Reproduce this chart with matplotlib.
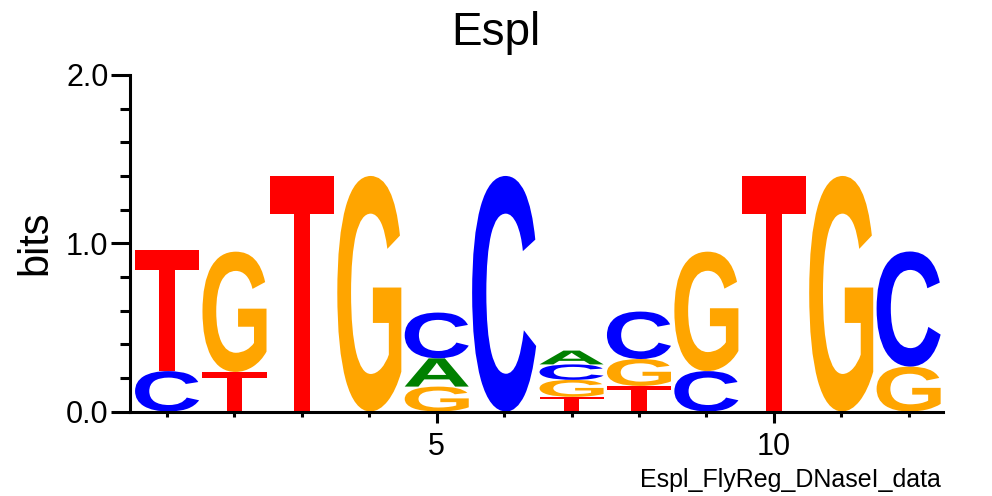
import matplotlib
matplotlib.use('Agg')
import matplotlib.pyplot as plt
from matplotlib.textpath import TextPath
from matplotlib.patches import PathPatch
from matplotlib.font_manager import FontProperties
from matplotlib.transforms import Affine2D

plt.rcParams['font.family'] = ['Liberation Sans', 'DejaVu Sans']

# ---------------- data (bits per letter, bottom -> top)
title = 'Espl'
subtitle = 'Espl_FlyReg_DNaseI_data'
positions = list(range(1, 13))
stack_letters = [
    ['C', 'T'],
    ['T', 'G'],
    ['T'],
    ['G'],
    ['G', 'A', 'C'],
    ['C'],
    ['T', 'G', 'C', 'A'],
    ['T', 'G', 'C'],
    ['C', 'G'],
    ['T'],
    ['G'],
    ['G', 'C'],
]
stack_bits = [
    [0.24, 0.72],
    [0.235, 0.715],
    [1.40],
    [1.40],
    [0.148, 0.168, 0.272],
    [1.40],
    [0.087, 0.101, 0.092, 0.082],
    [0.152, 0.160, 0.282],
    [0.24, 0.71],
    [1.40],
    [1.40],
    [0.267, 0.684],
]
ytick_vals = [0.0, 1.0, 2.0]
ytick_labels = ['0.0', '1.0', '2.0']
xtick_major = [5, 10]

colors = {'A': '#008000', 'C': '#0000ff', 'G': '#ffa500', 'T': '#ff0000'}
glyph_font = FontProperties(family='Liberation Sans', weight='bold')


def draw_letter(ax, ch, x, y0, h, w=0.95):
    # stretch the glyph outline so it fills its box exactly
    tp = TextPath((0, 0), ch, size=1, prop=glyph_font)
    bb = tp.get_extents()
    tr = (Affine2D().translate(-bb.x0, -bb.y0)
          .scale(w / bb.width, h / bb.height)
          .translate(x - w / 2, y0))
    ax.add_patch(PathPatch(tr.transform_path(tp), facecolor=colors[ch],
                           edgecolor='none', lw=0))


fig = plt.figure(figsize=(9.92, 4.96), dpi=100)
ax = fig.add_axes([130 / 992, 1 - 411.5 / 496, (943 - 130) / 992, (411.5 - 75) / 496])

for pos, letters, bits in zip(positions, stack_letters, stack_bits):
    y = 0.0
    for ch, h in zip(letters, bits):
        draw_letter(ax, ch, pos, y, h)
        y += h

ax.set_xlim(0.45, 12.51)
ax.set_ylim(0, 2.0)

for s in ['top', 'right']:
    ax.spines[s].set_visible(False)
for s in ['left', 'bottom']:
    ax.spines[s].set_linewidth(2.2)

ax.set_yticks(ytick_vals)
ax.set_yticklabels(ytick_labels)
ax.set_yticks([0.2, 0.4, 0.6, 0.8, 1.2, 1.4, 1.6, 1.8], minor=True)
ax.set_xticks(xtick_major)
ax.set_xticklabels([str(v) for v in xtick_major])
ax.set_xticks([p for p in positions if p not in xtick_major], minor=True)

ax.tick_params(axis='y', which='major', direction='out', length=13.5, width=2.2,
               labelsize=22, pad=2)
ax.tick_params(axis='y', which='minor', direction='out', length=7, width=2.2)
ax.tick_params(axis='x', which='major', direction='out', length=8, width=2.2,
               labelsize=22, pad=7)
ax.tick_params(axis='x', which='minor', direction='out', length=3.5, width=2.2)

fig.text(35 / 992, 1 - 243 / 496, 'bits', rotation=90, ha='center', va='center',
         fontsize=30)
fig.text(0.5, 1 - 45 / 496, title, ha='center', va='baseline', fontsize=33)
fig.text(941 / 992, 1 - 487 / 496, subtitle, ha='right', va='baseline', fontsize=18)

fig.savefig('out.png', dpi=100)
